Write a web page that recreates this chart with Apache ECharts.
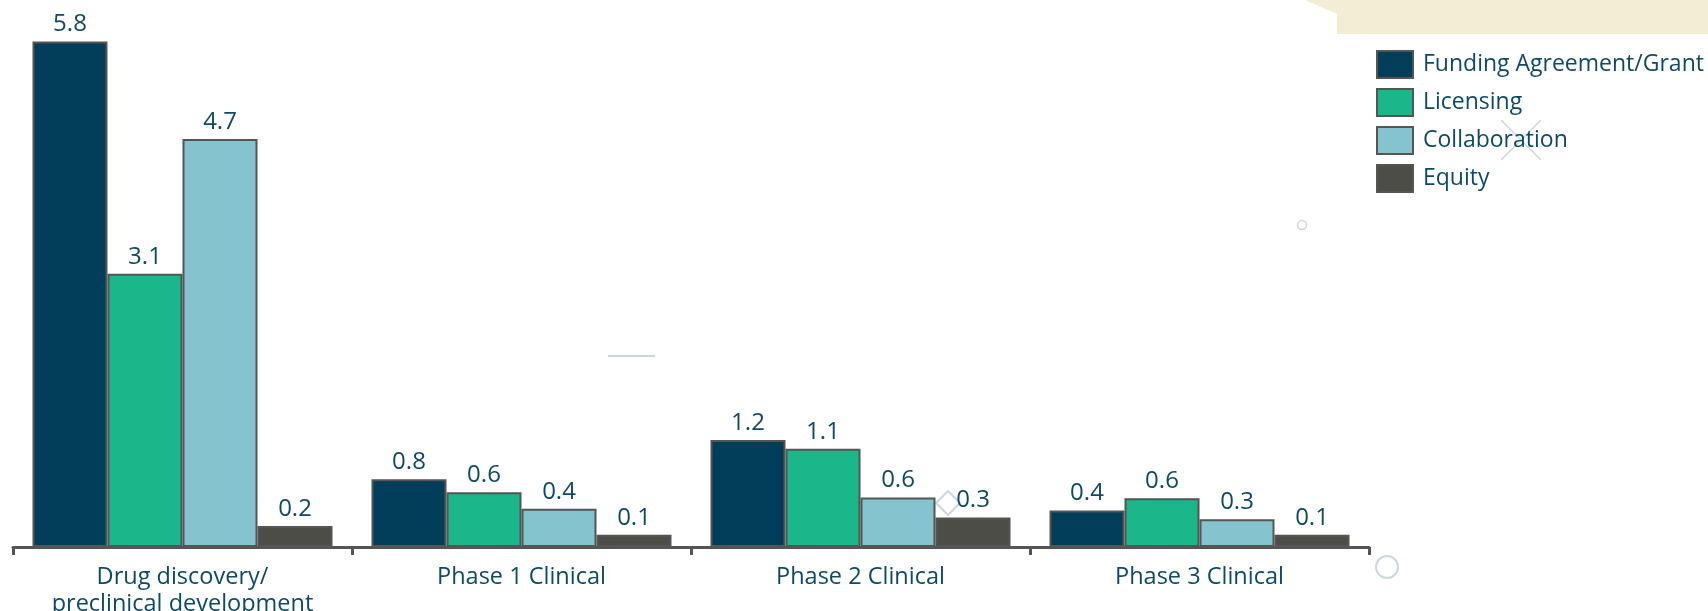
<!DOCTYPE html>
<html>
<head>
<meta charset="utf-8">
<script src="https://cdn.jsdelivr.net/npm/echarts@6/dist/echarts.min.js"></script>
<style>
html,body{margin:0;padding:0;background:#fff;}
#chart{width:1708px;height:611px;}
</style>
</head>
<body>
<div id="chart"></div>
<script>
const categories = ['Drug discovery/\npreclinical development', 'Phase 1 Clinical', 'Phase 2 Clinical', 'Phase 3 Clinical'];
const seriesNames = ['Funding Agreement/Grant', 'Licensing', 'Collaboration', 'Equity'];
const fundingGrant = [5.81, 0.78, 1.23, 0.42];
const licensing = [3.14, 0.63, 1.13, 0.56];
const collaboration = [4.69, 0.44, 0.57, 0.32];
const equity = [0.24, 0.14, 0.34, 0.14];
const colors = ['#023d5a', '#1bb68a', '#85c4cf', '#4d4d48'];

const FONT = 'Open Sans';
const TEXT = '#0e4a66';
const DECO = '#c9d8df';

const chart = echarts.init(document.getElementById('chart'));
const values = [fundingGrant, licensing, collaboration, equity];

chart.setOption({
  animation: false,
  grid: { left: 13, width: 1356, top: 25, bottom: 64, containLabel: false, outerBoundsMode: 'none' },
  legend: {
    orient: 'vertical', left: 1376, top: 50, padding: 0,
    itemWidth: 36, itemHeight: 27, itemGap: 9,
    icon: 'rect',
    textStyle: { fontFamily: FONT, fontSize: 23, lineHeight: 27, color: TEXT, padding: [0, 0, 0, 5] },
    data: seriesNames
  },
  xAxis: {
    type: 'category',
    data: categories,
    axisLine: { lineStyle: { color: '#555555', width: 3 } },
    axisTick: { show: true, interval: 0, length: 8, lineStyle: { color: '#555555', width: 3 } },
    axisLabel: { interval: 0, hideOverlap: false, fontFamily: FONT, fontSize: 23.5, color: TEXT, margin: 17, lineHeight: 27 }
  },
  yAxis: { type: 'value', min: 0, max: 6, show: false, splitLine: { show: false } },
  graphic: [
    { type: 'polygon', z: -10, shape: { points: [[1305, 0], [1337, 14], [1337, 34], [1708, 34], [1708, 0]] }, style: { fill: '#f3edd5' } },
    { type: 'circle', z: -10, shape: { cx: 1302, cy: 225, r: 4.5 }, style: { fill: 'none', stroke: DECO, lineWidth: 1.5 } },
    { type: 'circle', z: -10, shape: { cx: 1387, cy: 567, r: 11 }, style: { fill: 'none', stroke: DECO, lineWidth: 2 } },
    { type: 'line', z: -10, shape: { x1: 1501, y1: 120, x2: 1541, y2: 160 }, style: { stroke: DECO, lineWidth: 1.5 } },
    { type: 'line', z: -10, shape: { x1: 1541, y1: 120, x2: 1501, y2: 160 }, style: { stroke: DECO, lineWidth: 1.5 } },
    { type: 'line', z: -10, shape: { x1: 608, y1: 356, x2: 655, y2: 356 }, style: { stroke: DECO, lineWidth: 2 } },
    { type: 'polygon', z: -10, shape: { points: [[948, 491], [960, 503], [948, 515], [936, 503]] }, style: { fill: 'none', stroke: DECO, lineWidth: 2 } }
  ],
  series: seriesNames.map((name, i) => ({
    name: name,
    type: 'bar',
    data: values[i],
    barGap: '0%',
    barCategoryGap: '11.5%',
    itemStyle: { color: colors[i], borderColor: '#555555', borderWidth: 2 },
    label: {
      show: true, position: 'top', distance: 5,
      fontFamily: FONT, fontSize: 24, color: TEXT,
      formatter: p => p.value.toFixed(1)
    }
  }))
});
</script>
</body>
</html>
